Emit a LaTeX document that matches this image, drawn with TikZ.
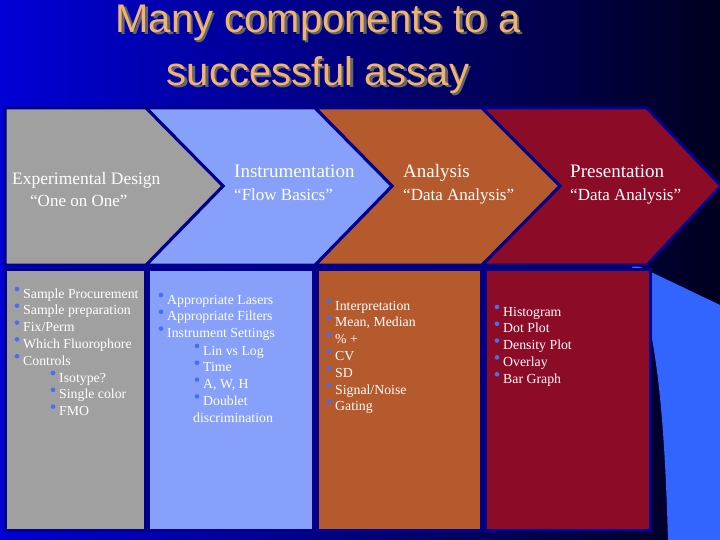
\documentclass[tikz,border=0pt]{standalone}
\usepackage{fontspec}
\setmainfont{Liberation Serif}
\newfontfamily\titlefont{Liberation Sans}
\definecolor{navyb}{RGB}{0,0,140}
\definecolor{grayc}{RGB}{160,160,160}
\definecolor{bluec}{RGB}{135,160,250}
\definecolor{orc}{RGB}{180,90,45}
\definecolor{redc}{RGB}{140,12,40}
\definecolor{bulb}{RGB}{70,110,240}
\definecolor{titc}{RGB}{240,180,110}
\definecolor{bgl}{RGB}{0,0,215}
\definecolor{bgr}{RGB}{0,0,30}
\definecolor{swoosh}{RGB}{50,100,255}
\begin{document}
\begin{tikzpicture}[x=1pt,y=-1pt,
  sh/.style={draw=navyb,line width=3pt,line join=miter},
  hd/.style={anchor=base west,text=white,font=\fontsize{19}{21}\selectfont,inner sep=0},
  it/.style={anchor=base west,text=white,font=\fontsize{13.8}{15}\selectfont,inner sep=0},
  ttl/.style={font=\titlefont\fontsize{40}{53}\selectfont,align=center},
  bl/.style={fill=bulb,draw=none}]
\useasboundingbox (0,0) rectangle (720,540);
\shade[left color=bgl, right color=bgr] (0,0) rectangle (720,540);
\fill[swoosh] (630,262) -- (720,305) -- (720,540) -- (668,540) .. controls (664,400) and (655,320) .. (630,262) -- cycle;
% title
\node[ttl,text=black!60] at (320.5,51.5) {Many components to a\\successful assay};
\node (title) [ttl,text=titc] at (318,49) {Many components to a\\successful assay};
% chevrons
\path[sh,fill=redc] (482,108) -- (647,108) -- (721,186) -- (647,265) -- (482,265) -- (560,186) -- cycle;
\path[sh,fill=orc] (315,108) -- (482,108) -- (560,186) -- (482,265) -- (315,265) -- (392,186) -- cycle;
\path[sh,fill=bluec] (146,108) -- (315,108) -- (392,186) -- (315,265) -- (146,265) -- (223,186) -- cycle;
\path[sh,fill=grayc] (5,108) -- (146,108) -- (223,186) -- (146,265) -- (5,265) -- cycle;
% boxes
\path[sh,fill=grayc] (5,269) rectangle (145,530);
\path[sh,fill=bluec] (148,269) rectangle (313,530);
\path[sh,fill=orc] (317,269) rectangle (481,530);
\path[sh,fill=redc] (485,269) rectangle (650,530);
% headers
\node[hd,font=\fontsize{17.5}{20}\selectfont] (h1) at (12,185) {Experimental Design};
\node[hd,font=\fontsize{17}{20}\selectfont] (h1b) at (30,207) {“One on One”};
\node[hd] (h2) at (234,178) {Instrumentation};
\node[hd,font=\fontsize{17}{20}\selectfont] (h2b) at (234,201) {“Flow Basics”};
\node[hd] (h3) at (403,178) {Analysis};
\node[hd,font=\fontsize{17}{20}\selectfont] (h3b) at (403,201) {“Data Analysis”};
\node[hd] (h4) at (570,178) {Presentation};
\node[hd,font=\fontsize{17}{20}\selectfont] (h4b) at (570,201) {“Data Analysis”};
% lists
\foreach \t [count=\i] in {Sample Procurement,Sample preparation,Fix/Perm,Which Fluorophore,Controls}{
  \fill[bl] (17,{289+16.8*(\i-1)}) circle (2.3);
  \node[it] at (23,{298+16.8*(\i-1)}) {\t};}
\foreach \t [count=\i] in {Isotype?,Single color,FMO}{
  \fill[bl] (53,{373+16.8*(\i-1)}) circle (2.3);
  \node[it] at (59,{382+16.8*(\i-1)}) {\t};}
\foreach \t [count=\i] in {Appropriate Lasers,Appropriate Filters,Instrument Settings}{
  \fill[bl] (161,{295+16.8*(\i-1)}) circle (2.3);
  \node[it] at (167,{304+16.8*(\i-1)}) {\t};}
\foreach \t [count=\i] in {Lin vs Log,Time,{A, W, H},Doublet}{
  \fill[bl] (197,{346+16.8*(\i-1)}) circle (2.3);
  \node[it] at (203,{355+16.8*(\i-1)}) {\t};}
\node[it] at (193,422) {discrimination};
\foreach \t [count=\i] in {Interpretation,{Mean, Median},\% +,CV,SD,Signal/Noise,Gating}{
  \fill[bl] (329,{301+16.8*(\i-1)}) circle (2.3);
  \node[it] at (335,{310+16.8*(\i-1)}) {\t};}
\foreach \t [count=\i] in {Histogram,Dot Plot,Density Plot,Overlay,Bar Graph}{
  \fill[bl] (497,{307+16.8*(\i-1)}) circle (2.3);
  \node[it] at (503,{316+16.8*(\i-1)}) {\t};}
\end{tikzpicture}
\end{document}
